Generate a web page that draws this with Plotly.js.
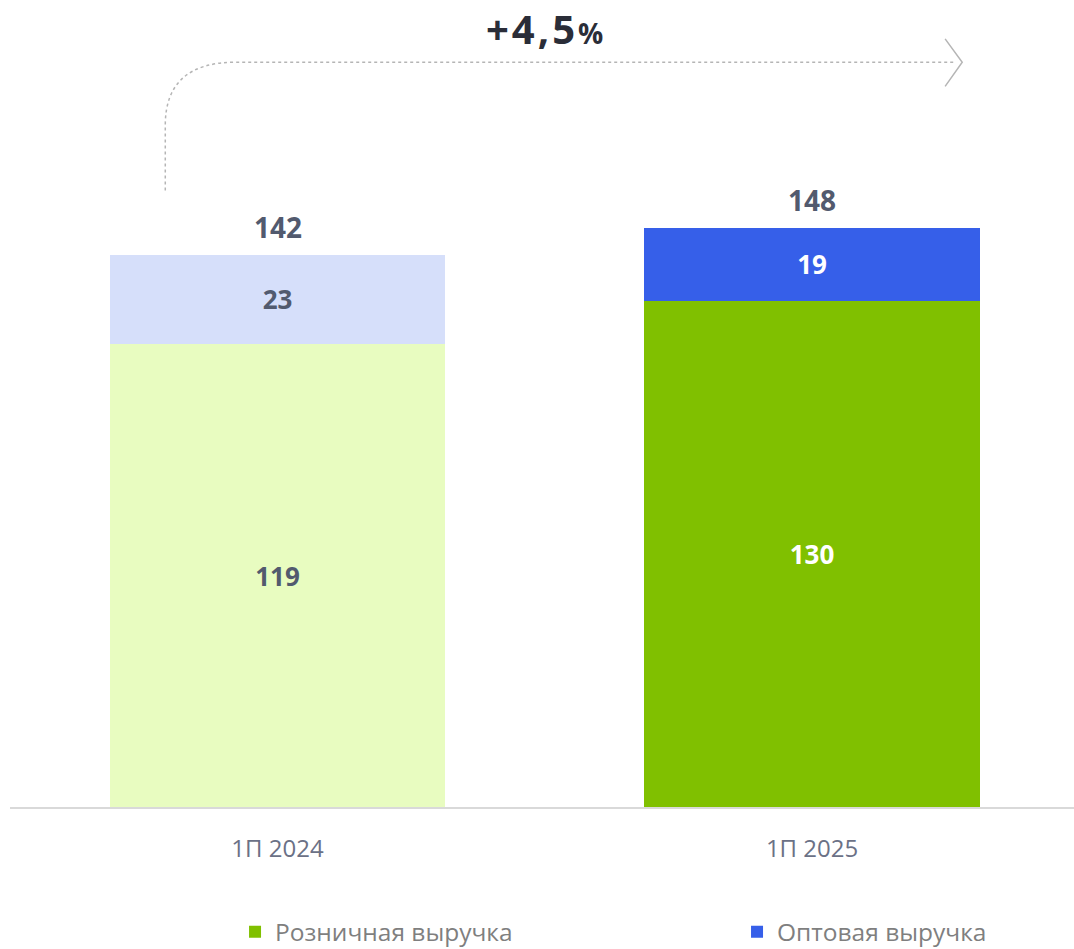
<!DOCTYPE html>
<html>
<head>
<meta charset="utf-8">
<script src="https://cdn.plot.ly/plotly-3.0.1.min.js"></script>
<style>
html,body{margin:0;padding:0;background:#fff;}
#chart{width:1074px;height:949px;}
</style>
</head>
<body>
<div id="chart"></div>
<script>
// ---- data ----
const categories = ['1П 2024', '1П 2025'];
const retail = [119, 130];
const wholesale = [23, 19];
const totals = [142, 148];
const seriesNames = ['Розничная выручка', 'Оптовая выручка'];
const growthLabel = '+4,5';
const growthUnit = '%';

// ---- style ----
const retailColors = ['#e8fcc0', '#80c000'];
const wholesaleColors = ['#d6dffa', '#365fe9'];
const insideTextColors = ['#525a6e', '#ffffff'];
const FONT = 'Open Sans, Noto Sans, sans-serif';
const barWidth = 0.627;

const traces = [];
categories.forEach((c, i) => {
  traces.push({
    type: 'bar', x: [i], y: [retail[i]], name: seriesNames[0],
    legend: 'legend', legendgroup: 'r', showlegend: i === 1,
    marker: {color: retailColors[i]}, width: barWidth,
    text: [String(retail[i])], textposition: 'inside', insidetextanchor: 'middle',
    textfont: {family: FONT, size: 26, color: insideTextColors[i], weight: 700},
    constraintext: 'none', hoverinfo: 'skip'
  });
});
categories.forEach((c, i) => {
  traces.push({
    type: 'bar', x: [i], y: [wholesale[i]], name: seriesNames[1],
    legend: 'legend2', legendgroup: 'w', showlegend: i === 1,
    marker: {color: wholesaleColors[i]}, width: barWidth,
    text: [String(wholesale[i])], textposition: 'inside', insidetextanchor: 'middle',
    textfont: {family: FONT, size: 26, color: insideTextColors[i], weight: 700},
    constraintext: 'none', hoverinfo: 'skip'
  });
});

const annotations = categories.map((c, i) => ({
  x: i, y: retail[i] + wholesale[i], xref: 'x', yref: 'y',
  text: '<b>' + totals[i] + '</b>', showarrow: false,
  yanchor: 'bottom', yshift: 7,
  font: {family: FONT, size: 28, color: '#525a6e'}
}));

// growth connector anchored relative to the bars
const yTop = Math.max(...totals) + 43.5;
const xStart = -0.21, xEnd = 1.268;
const yStart = totals[0] + 16.5;
const yCurve = yTop - 16.2;
const xCurve = -0.078;
annotations.push({
  x: 0.50, y: 1, xref: 'x', yref: 'paper',
  text: '<b><span style="letter-spacing:3px">' + growthLabel + '</span><span style="font-size:28px">' + growthUnit + '</span></b>',
  showarrow: false, yanchor: 'top', borderpad: 0,
  font: {family: FONT, size: 40, color: '#2a2d38'}
});

const shapes = [
  {type: 'path', xref: 'x', yref: 'y',
   path: `M ${xStart},${yStart} L ${xStart},${yCurve} Q ${xStart},${yTop} ${xCurve},${yTop} L ${xEnd},${yTop}`,
   line: {color: '#b5b5b5', width: 1.5, dash: 'dot'}},
  {type: 'path', xref: 'x', yref: 'y',
   path: `M ${xEnd - 0.019},${yTop + 6} L ${xEnd + 0.013},${yTop} L ${xEnd - 0.019},${yTop - 6.2}`,
   line: {color: '#b5b5b5', width: 1.5}}
];

const legendBase = {
  orientation: 'h', xref: 'paper', yref: 'container', xanchor: 'left',
  y: 0.018, yanchor: 'middle',
  font: {family: FONT, size: 24.5, color: '#7f7f7f'}, bgcolor: 'rgba(0,0,0,0)'
};

const layout = {
  width: 1074, height: 949,
  margin: {l: 10, r: 0, t: 0, b: 142, autoexpand: false},
  paper_bgcolor: '#ffffff', plot_bgcolor: '#ffffff',
  barmode: 'stack',
  showlegend: true,
  xaxis: {
    range: [-0.5005, 1.4901], tickvals: [0, 1], ticktext: categories,
    showline: true, linecolor: '#d9d9d9', linewidth: 2,
    showgrid: false, zeroline: false, ticks: '',
    ticklabelstandoff: 19,
    tickfont: {family: FONT, size: 24, color: '#6b7186'}, fixedrange: true
  },
  yaxis: {
    range: [0, 207.5], showgrid: false, zeroline: false, showticklabels: false,
    showline: false, ticks: '', fixedrange: true
  },
  legend: Object.assign({}, legendBase, {x: 0.2115}),
  legend2: Object.assign({}, legendBase, {x: 0.6833}),
  annotations: annotations,
  shapes: shapes
};

Plotly.newPlot('chart', traces, layout, {displayModeBar: false, staticPlot: true});
</script>
</body>
</html>
